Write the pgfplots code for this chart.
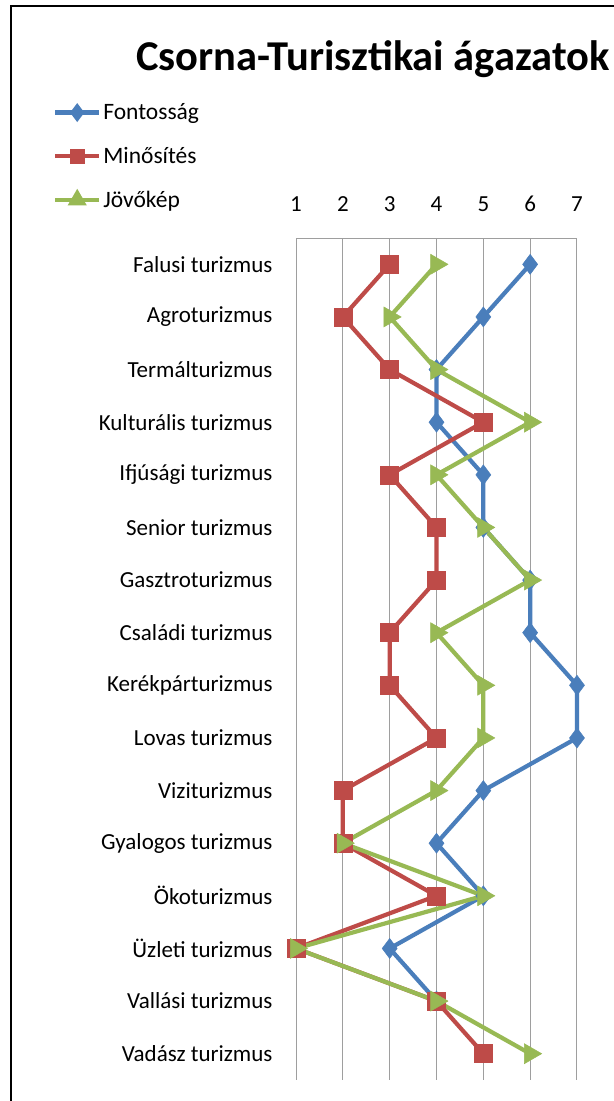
\documentclass[border=0pt]{standalone}
\usepackage{fontspec}
\setmainfont{Carlito}
\usepackage{pgfplots}
\pgfplotsset{compat=1.18}
\definecolor{cBlue}{HTML}{4A7EBB}
\definecolor{cRed}{HTML}{BE4B48}
\definecolor{cGreen}{HTML}{98B954}
\begin{document}
\begin{tikzpicture}
\useasboundingbox (0,0) rectangle (614bp,1101bp);
\fill[white] (0,0) rectangle (614bp,1101bp);
\draw[black, line width=2.5bp] (11bp,-20bp) rectangle (640bp,1095bp);
\node[anchor=base west, inner sep=0pt, font=\bfseries\fontsize{42.5bp}{48bp}\selectfont] at (136bp,1030bp) {Csorna-Turisztikai ágazatok};
\begin{axis}[
  at={(296bp,21bp)}, anchor=south west,
  scale only axis, width=281bp, height=842bp,
  xmin=1, xmax=7, ymin=0.5, ymax=16.5,
  y dir=reverse,
  xtick={1,2,3,4,5,6,7},
  ytick={1,...,16},
  yticklabels={Falusi turizmus, Agroturizmus, Termálturizmus, Kulturális turizmus, Ifjúsági turizmus, Senior turizmus, Gasztroturizmus, Családi turizmus, Kerékpárturizmus, Lovas turizmus, Viziturizmus, Gyalogos turizmus, Ökoturizmus, Üzleti turizmus, Vallási turizmus, Vadász turizmus},
  xticklabel pos=right,
  /pgf/number format/assume math mode=true,
  xticklabel style={font=\fontsize{23bp}{27bp}\selectfont, anchor=south, yshift=23bp},
  yticklabel style={font=\fontsize{23bp}{27bp}\selectfont, anchor=east, xshift=-20bp},
  major tick length=0pt,
  axis line style={draw=none},
  xmajorgrids,
  grid style={draw=black!38, line width=1bp},
  clip=false,
  legend style={at={(axis description cs:-0.865,1.162)}, anchor=north west, draw=none, fill=none,
    font=\fontsize{23.5bp}{27bp}\selectfont, row sep=22bp, inner sep=0pt,
    nodes={inner sep=2bp}},
  legend cell align=left,
  legend image code/.code={\draw[mark repeat=2, mark phase=2, mark options={scale=0.6}] plot coordinates {(0bp,0bp) (22bp,0bp) (44bp,0bp)};},
]
\draw[black!38, line width=1bp] (axis cs:1,0.5) -- (axis cs:7,0.5);
\addplot[cBlue, line width=4.2bp, mark=diamond*, mark size=10bp, mark options={solid, fill=cBlue, line width=0.5bp}] coordinates {
(6,1) (5,2) (4,3) (4,4) (5,5) (5,6) (6,7) (6,8) (7,9) (7,10) (5,11) (4,12) (5,13) (3,14) (4,15)};
\addlegendentry{Fontosság}
\addplot[cRed, line width=4.2bp, mark=square*, mark size=9bp, mark options={solid, fill=cRed, line width=0.5bp}] coordinates {
(3,1) (2,2) (3,3) (5,4) (3,5) (4,6) (4,7) (3,8) (3,9) (4,10) (2,11) (2,12) (4,13) (1,14) (4,15) (5,16)};
\addlegendentry{Minősítés}
\addplot[cGreen, line width=4.2bp, mark=triangle*, mark size=11.5bp, mark options={solid, fill=cGreen, line width=0.5bp, rotate=-90}] coordinates {
(4,1) (3,2) (4,3) (6,4) (4,5) (5,6) (6,7) (4,8) (5,9) (5,10) (4,11) (2,12) (5,13) (1,14) (4,15) (6,16)};
\addlegendentry{Jövőkép}
\end{axis}
\end{tikzpicture}
\end{document}
